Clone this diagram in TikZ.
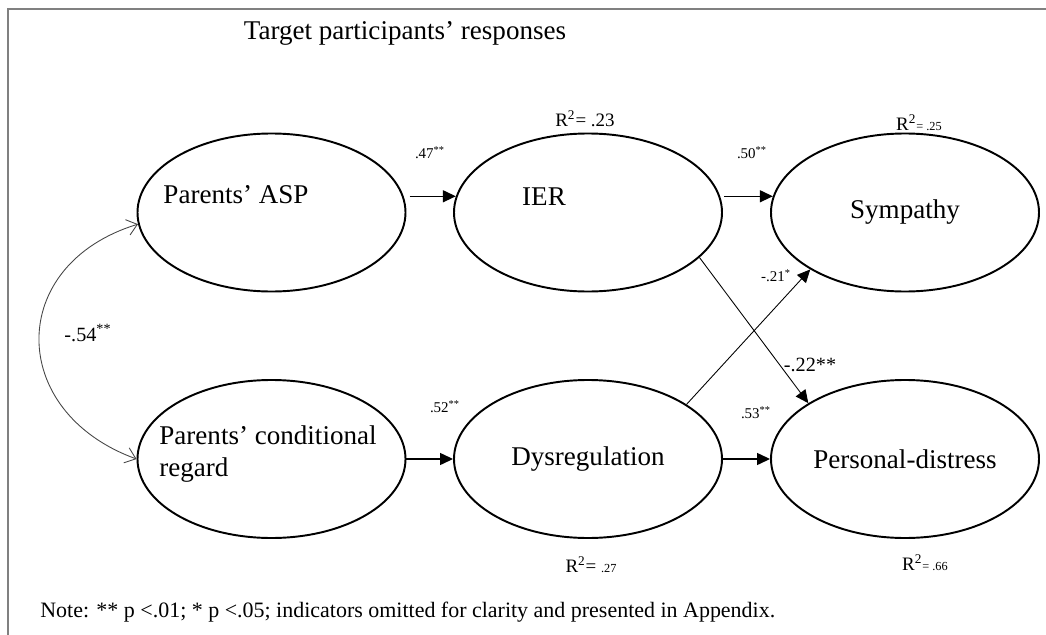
\documentclass[tikz,border=0pt]{standalone}
\usepackage{fontspec}
\setmainfont{Liberation Serif}
\usetikzlibrary{arrows.meta,shapes.geometric,positioning}
\definecolor{FrameGray}{RGB}{128,128,128}
\definecolor{CurveGray}{RGB}{70,70,70}

\begin{document}
\begin{tikzpicture}[
  latent/.style={ellipse,draw,line width=1.1pt,minimum width=5.36cm,minimum height=3.16cm,inner sep=0pt,font=\fontsize{15.4}{18.2}\selectfont},
  vname/.style={inner sep=0pt,align=left,font=\fontsize{15.4}{18.2}\selectfont},
  coef/.style={inner sep=0pt,font=\fontsize{8.5}{10}\selectfont},
  bigcoef/.style={inner sep=0pt,font=\fontsize{11.5}{13}\selectfont},
  rsq/.style={inner sep=0pt,font=\fontsize{10.8}{12}\selectfont},
  arr/.style={-{Triangle[length=0.26cm,width=0.24cm]},line width=0.8pt},
  thinarr/.style={-{Triangle[length=0.26cm,width=0.24cm]},line width=0.5pt},
  corr/.style={{Straight Barb[length=0.2cm,width=0.32cm]}-{Straight Barb[length=0.2cm,width=0.32cm]},line width=0.5pt,draw=CurveGray}
]
  \useasboundingbox (0,0) rectangle (20.92,-12.70);
  \draw[FrameGray,line width=1.1pt] (20.92,-0.18) -- (0.16,-0.18) -- (0.16,-12.70);

  \node[font=\fontsize{15.4}{18}\selectfont] (title) at (8.10,-0.66) {Target participants’ responses};

  % latent variables
  \node[latent] (asp) at (5.43,-4.25) {};
  \node[latent] (ier) at (11.76,-4.25) {};
  \node[latent] (sym) at (18.10,-4.25) {Sympathy};
  \node[latent] (cr) at (5.43,-9.18) {};
  \node[latent] (dys) at (11.76,-9.18) {Dysregulation};
  \node[latent] (pd) at (18.10,-9.18) {Personal-distress};
  \node[vname] (aspname) at (4.72,-3.90) {Parents’ ASP};
  \node[vname] (iername) at (10.88,-3.94) {IER};
  \node[vname] (crname) at (5.36,-9.08) {Parents’ conditional\\regard};

  % paths
  \draw[arr,shorten <=0.12cm] (asp.7) -- (ier.173);
  \draw[arr,shorten <=0.08cm] (ier.7) -- (sym.173);
  \draw[arr] (cr.east) -- (dys.west);
  \draw[arr] (dys.east) -- (pd.west);
  \draw[thinarr] (ier.-22) -- (pd.150);
  \draw[thinarr] (dys.29) -- (sym.211);
  \draw[corr] (asp.185) to[out=197,in=160,looseness=1.5] (cr.180);

  % coefficients
  \node[coef] (c47) at (8.60,-3.06) {.47\textsuperscript{**}};
  \node[coef] (c50) at (15.04,-3.06) {.50\textsuperscript{**}};
  \node[coef] (c52) at (8.90,-8.14) {.52\textsuperscript{**}};
  \node[coef] (c53) at (15.12,-8.26) {.53\textsuperscript{**}};
  \node[coef] (c21) at (15.52,-5.52) {-.21\textsuperscript{*}};
  \node[bigcoef] (c22) at (16.20,-7.30) {-.22**};
  \node[bigcoef] (c54) at (1.76,-6.66) {-.54\textsuperscript{**}};

  % explained variance
  \node[rsq] (r23) at (11.70,-2.38) {R\textsuperscript{2}= .23};
  \node[rsq] (r25) at (18.38,-2.46) {R\textsuperscript{2}{\fontsize{7}{8}\selectfont= .25}};
  \node[rsq] (r27) at (11.82,-11.30) {R\textsuperscript{2}= {\fontsize{7}{8}\selectfont.27}};
  \node[rsq] (r66) at (18.50,-11.26) {R\textsuperscript{2}{\fontsize{7}{8}\selectfont= .66}};

  \node[anchor=west,inner sep=0pt,font=\fontsize{12.5}{14}\selectfont] (note) at (0.80,-12.24) {Note: ** p <.01; * p <.05; indicators omitted for clarity and presented in Appendix.};
\end{tikzpicture}
\end{document}
